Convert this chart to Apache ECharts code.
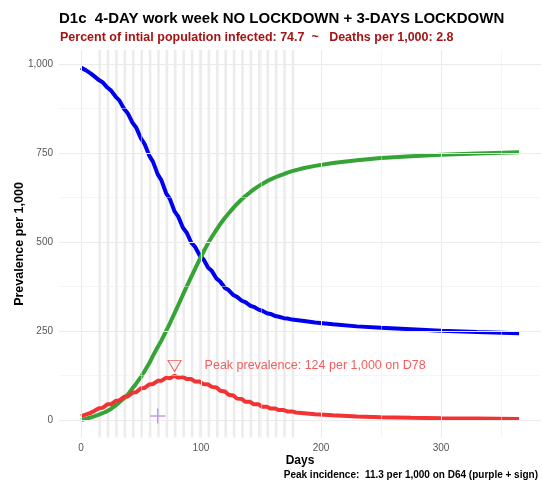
<!DOCTYPE html>
<html>
<head>
<meta charset="utf-8">
<script src="https://cdn.jsdelivr.net/npm/echarts@6/dist/echarts.min.js"></script>
<style>
  html, body { margin: 0; padding: 0; background: #fff; }
  #chart { width: 542px; height: 487px; }
</style>
</head>
<body>
<div id="chart"></div>
<script>
  // days sampled twice a week: lockdown start and lockdown end
  const days = [0, 4, 8, 11, 15, 18, 22, 25, 29, 32, 36, 39, 43, 46, 50, 53, 57, 60, 64, 67,
    71, 74, 78, 81, 85, 88, 92, 95, 99, 102, 106, 109, 113, 116, 120, 123, 127, 130, 134, 137,
    141, 144, 148, 151, 155, 158, 162, 165, 169, 172, 176, 179, 186, 195, 210, 230, 250, 275,
    300, 330, 365];
  const susceptible = [990, 983, 974, 966, 955, 949, 934, 926, 908, 898, 874, 862, 835, 822, 791, 776,
    742, 726, 690, 674, 637, 622, 586, 572, 540, 527, 498, 487, 462, 452, 428, 419, 397, 389, 371, 365,
    351, 346, 335, 331, 321, 318, 310, 307, 300, 298, 292, 290, 286, 285, 282, 281, 278, 274, 269, 263,
    259, 255, 251, 247, 244];
  const recovered = [0, 3, 7, 10, 15, 19, 25, 31, 41, 50, 61, 71, 89, 102, 121, 137, 160, 180, 205, 223,
    250, 271, 300, 322, 352, 374, 403, 424, 452, 472, 497, 514, 535, 550, 568, 580, 596, 607, 620, 629,
    640, 648, 657, 663, 671, 676, 682, 686, 691, 695, 699, 702, 708, 714, 722, 730, 736, 741, 745, 749, 752];
  const infected = [11, 15, 20, 25, 33, 34, 44, 44, 54, 55, 65, 66, 77, 78, 89, 90, 100, 101, 110, 110,
    119, 117, 124, 119, 121, 115, 115, 108, 108, 101, 100, 93, 91, 82, 80, 71, 69, 60, 59, 51, 51, 44,
    44, 37, 37, 32, 32, 28, 28, 24, 24, 21, 19, 16, 13, 10, 8, 6, 5, 4, 3];

  // first day of each 3-day lockdown
  const lockdownStarts = [15, 22, 29, 36, 43, 50, 57, 64, 71, 78, 85, 92, 99, 106, 113, 120, 127, 134,
    141, 148, 155, 162, 169, 176];

  const xTicks = [0, 100, 200, 300];
  const xMinor = [50, 150, 250, 350];
  const yTicks = [0, 250, 500, 750, 1000];
  const yMinor = [125, 375, 625, 875];

  const peakDay = 78, peakValue = 124;
  const incidenceDay = 64, incidenceValue = 11.3;

  const font = 'Liberation Sans, Arial, sans-serif';
  const pts = arr => days.map((d, i) => [d, arr[i]]);

  const gridLines = []
    .concat(xTicks.map(v => ({ xAxis: v, lineStyle: { width: 1 } })))
    .concat(xMinor.map(v => ({ xAxis: v, lineStyle: { width: 0.5 } })))
    .concat(yTicks.map(v => ({ yAxis: v, lineStyle: { width: 1 } })))
    .concat(yMinor.map(v => ({ yAxis: v, lineStyle: { width: 0.5 } })));

  const bars = lockdownStarts.map(s => [{ xAxis: s - 0.5 }, { xAxis: s + 1.7 }]);

  const chart = echarts.init(document.getElementById('chart'), null, { renderer: 'canvas' });
  chart.setOption({
    animation: false,
    title: [
      {
        text: 'D1c  4-DAY work week NO LOCKDOWN + 3-DAYS LOCKDOWN',
        left: 59, top: 11, padding: 0,
        textStyle: { fontFamily: font, fontSize: 15, fontWeight: 'bold', color: '#000' }
      },
      {
        text: 'Percent of intial population infected: 74.7  ~   Deaths per 1,000: 2.8',
        left: 60, top: 31, padding: 0,
        textStyle: { fontFamily: font, fontSize: 12.5, fontWeight: 'bold', color: '#a31515' }
      }
    ],
    grid: { left: 59, right: 1, top: 50, bottom: 49.4 },
    xAxis: {
      type: 'value', min: -18.25, max: 383.25,
      axisLine: { show: false }, axisTick: { show: false }, splitLine: { show: false },
      axisLabel: { customValues: xTicks, margin: 6, color: '#555', fontFamily: font, fontSize: 10 }
    },
    yAxis: {
      type: 'value', min: -49.5, max: 1039.5,
      axisLine: { show: false }, axisTick: { show: false }, splitLine: { show: false },
      axisLabel: {
        customValues: yTicks, margin: 6, color: '#555', fontFamily: font, fontSize: 10,
        formatter: v => v.toLocaleString('en-US')
      }
    },
    graphic: [
      {
        type: 'text', x: 300, y: 461,
        style: { text: 'Days', font: 'bold 12px ' + font, fill: '#000', textAlign: 'center', textVerticalAlign: 'middle' }
      },
      {
        type: 'text', x: 20, y: 244, rotation: Math.PI / 2,
        style: { text: 'Prevalence per 1,000', font: 'bold 12.5px ' + font, fill: '#000', textAlign: 'center', textVerticalAlign: 'middle' }
      },
      {
        type: 'text', x: 538, y: 475,
        style: {
          text: 'Peak incidence:  ' + incidenceValue + ' per 1,000 on D' + incidenceDay + ' (purple + sign)',
          font: 'bold 10px ' + font, fill: '#000', textAlign: 'right', textVerticalAlign: 'middle'
        }
      }
    ],
    series: [
      {
        type: 'line', data: [], silent: true, z: 1,
        markLine: {
          silent: true, symbol: 'none', label: { show: false },
          lineStyle: { color: '#ebebeb', type: 'solid' },
          data: gridLines
        },
        markArea: {
          silent: true,
          itemStyle: { color: 'rgba(0,0,0,0.075)' },
          data: bars
        }
      },
      {
        name: 'Susceptible', type: 'line', data: pts(susceptible), showSymbol: false, z: 3,
        lineStyle: { color: '#0000f0', width: 4 }
      },
      {
        name: 'Recovered', type: 'line', data: pts(recovered), showSymbol: false, z: 3,
        lineStyle: { color: '#36a336', width: 4 }
      },
      {
        name: 'Infected', type: 'line', data: pts(infected), showSymbol: false, z: 4,
        lineStyle: { color: '#f23333', width: 4 }
      },
      {
        type: 'scatter', z: 5, silent: true,
        data: [[peakDay, peakValue]],
        symbol: 'path://M0,0L14,0L7,12Z', symbolSize: [13, 11], symbolOffset: [0, -10],
        itemStyle: { color: 'rgba(255,255,255,0)', borderColor: '#f23333', borderWidth: 1 },
        label: {
          show: true, position: 'right', distance: 0, offset: [23, 0],
          formatter: 'Peak prevalence: ' + peakValue + ' per 1,000 on D' + peakDay,
          color: '#f23333', fontFamily: font, fontSize: 12.5
        }
      },
      {
        type: 'scatter', z: 5, silent: true,
        data: [[incidenceDay, incidenceValue]],
        symbol: 'path://M9,0h2v9h9v2h-9v9h-2v-9h-9v-2h9z', symbolSize: 15,
        itemStyle: { color: '#b982e0' }
      }
    ]
  });
</script>
</body>
</html>
